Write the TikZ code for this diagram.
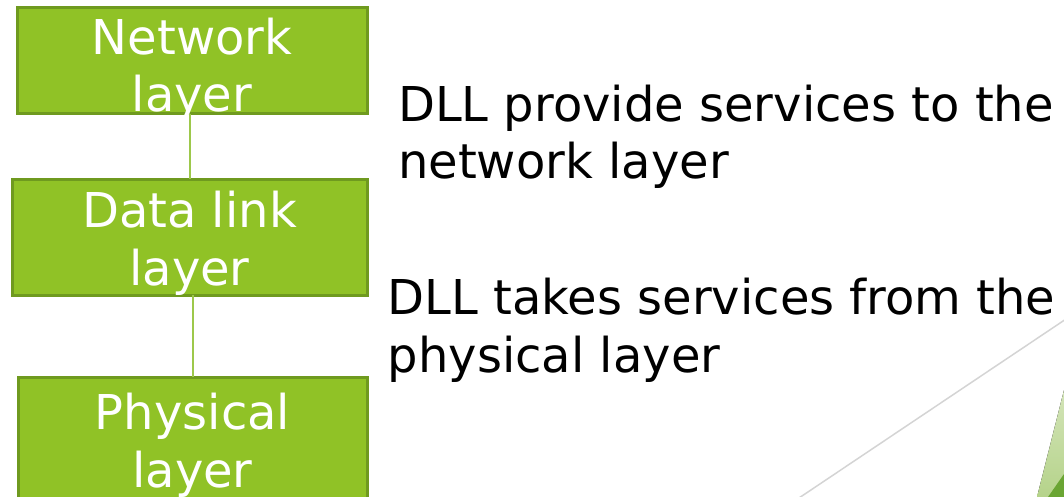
\documentclass[tikz,border=0pt]{standalone}
\usepackage{fontspec}
\setmainfont{DejaVu Sans}
\definecolor{boxfill}{HTML}{90C226}
\definecolor{boxedge}{HTML}{6F9A1F}
\definecolor{linkgreen}{HTML}{9DC84B}
\definecolor{rulegray}{HTML}{D4D4D4}
\definecolor{leafpale}{HTML}{D3E4B8}
\definecolor{leafmid}{HTML}{B5D38A}
\definecolor{leafdark}{HTML}{6AA533}
\begin{document}
\begin{tikzpicture}[x=1pt,y=-1pt,
  layerbox/.style={draw=boxedge, fill=boxfill, line width=3pt, rectangle,
    inner sep=0pt, outer sep=0pt},
  layertext/.style={text=white, align=center, inner sep=0pt,
    font=\fontsize{48}{57.5}\selectfont},
  note/.style={text=black, align=left, inner sep=0pt,
    font=\fontsize{48}{57.5}\selectfont},
  link/.style={draw=linkgreen, line width=2pt}]
\useasboundingbox (0,0) rectangle (1064,497);
\clip (0,0) rectangle (1064,497);

% decorative rule and corner leaves
\draw[rulegray, line width=1.5pt] (790,504) -- (1075,313);
\fill[top color=leafpale, bottom color=leafmid] (1037,497) -- (1064,390) -- (1064,497) -- cycle;
\fill[leafdark] (1048,497) -- (1064,474) -- (1064,497) -- cycle;

% layer stack
\node[layerbox, minimum width=350pt, minimum height=106pt] (net) at (192,61) {};
\node[layerbox, minimum width=355pt, minimum height=116pt] (dll) at (189.5,237) {};
\node[layerbox, minimum width=349pt, minimum height=133pt] (phy) at (192.5,443.5) {};

\node[layertext, anchor=north] (nettxt) at (192,17.5) {Network\\layer};
\node[layertext, anchor=north] (dlltxt) at (189.5,191) {Data link\\layer};
\node[layertext, anchor=north] (phytxt) at (192.5,393) {Physical\\layer};

\draw[link] (dll.north |- net.south) -- (dll.north);
\draw[link] (phy.north |- dll.south) -- (phy.north);

% descriptions
\node[note, anchor=north west] (up) at (398,84.5) {DLL provide services to the\\network layer};
\node[note, anchor=north west] (down) at (387.6,278) {DLL takes services from the\\physical layer};
\end{tikzpicture}
\end{document}
